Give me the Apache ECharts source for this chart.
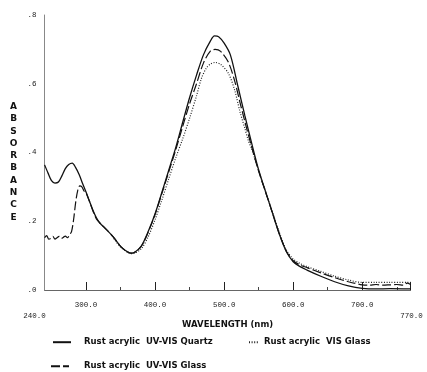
<!DOCTYPE html>
<html><head><meta charset="utf-8">
<script src="https://cdn.jsdelivr.net/npm/echarts@6/dist/echarts.min.js"></script>
<style>html,body{margin:0;padding:0;background:#fff}#c{width:427px;height:372px}</style>
</head><body><div id="c"></div>
<script>
const seriesNames = ['Rust acrylic  UV-VIS Quartz', 'Rust acrylic  VIS Glass', 'Rust acrylic  UV-VIS Glass'];
const majorTicks = [300, 400, 500, 600, 700, 770];
const minorTicks = [350, 450, 550, 650, 750];
const xLabels = [300, 400, 500, 600, 700];
const xEndLabels = [240, 770];
const quartz = [[240,0.364],[245,0.340],[250,0.318],[255,0.311],[260,0.314],[265,0.332],[270,0.353],[275,0.365],[280,0.369],[285,0.356],[290,0.336],[295,0.310],[300,0.285],[305,0.258],[310,0.232],[315,0.210],[320,0.195],[330,0.175],[340,0.153],[350,0.127],[360,0.111],[365,0.107],[370,0.109],[380,0.128],[390,0.170],[400,0.222],[410,0.285],[420,0.350],[430,0.415],[440,0.488],[450,0.560],[460,0.625],[470,0.684],[480,0.724],[486,0.739],[492,0.737],[500,0.718],[509,0.684],[520,0.592],[530,0.507],[540,0.426],[550,0.349],[560,0.286],[570,0.224],[580,0.162],[590,0.112],[600,0.082],[610,0.068],[620,0.058],[640,0.040],[660,0.024],[680,0.012],[700,0.005],[720,0.003],[740,0.004],[770,0.003]];
const visGlass = [[340,0.150],[350,0.125],[360,0.110],[365,0.106],[370,0.107],[380,0.120],[390,0.155],[400,0.205],[410,0.263],[420,0.325],[430,0.385],[440,0.440],[450,0.500],[460,0.565],[467,0.615],[474,0.645],[480,0.657],[487,0.662],[495,0.656],[506,0.631],[515,0.583],[523,0.518],[530,0.470],[535,0.435],[540,0.410],[550,0.347],[560,0.286],[570,0.226],[580,0.167],[590,0.117],[600,0.090],[610,0.077],[620,0.068],[640,0.054],[660,0.040],[680,0.029],[700,0.022],[720,0.022],[740,0.022],[770,0.022]];
const uvVisGlass = [[240,0.152],[243,0.158],[246,0.148],[249,0.150],[252,0.156],[255,0.148],[258,0.152],[261,0.156],[264,0.150],[267,0.153],[270,0.157],[273,0.152],[276,0.160],[279,0.170],[282,0.205],[285,0.255],[288,0.290],[291,0.303],[294,0.300],[297,0.288],[300,0.282],[303,0.268],[306,0.252],[310,0.230],[315,0.207],[320,0.195],[330,0.175],[340,0.153],[350,0.127],[360,0.111],[365,0.107],[370,0.109],[380,0.127],[390,0.168],[400,0.220],[410,0.282],[420,0.345],[430,0.408],[440,0.476],[450,0.542],[460,0.600],[470,0.660],[480,0.695],[487,0.700],[495,0.694],[506,0.663],[515,0.610],[523,0.545],[530,0.490],[540,0.415],[550,0.345],[560,0.285],[570,0.224],[580,0.163],[590,0.113],[600,0.085],[610,0.073],[620,0.065],[640,0.050],[660,0.036],[680,0.024],[700,0.015],[710,0.014],[720,0.016],[730,0.014],[740,0.015],[750,0.016],[760,0.014],[765,0.020],[770,0.016]];

const mono = 'Liberation Mono';
const bold = 'DejaVu Sans';
const chart = echarts.init(document.getElementById('c'), null, {renderer: 'canvas'});
const xBase = {type: 'value', min: 240, max: 770, position: 'bottom', splitLine: {show: false}};
const legTxt = {fontFamily: bold, fontWeight: 'bold', fontSize: 8.5, color: '#111'};
const yName = '{s| }\n' + 'ABSORBANCE'.split('').map(c => '{t|' + c + '}').join('\n');
chart.setOption({
  animation: false,
  backgroundColor: '#fff',
  grid: {left: 44.6, right: 16.4, top: 15, bottom: 82, containLabel: false},
  legend: [
    {data: [seriesNames[0]], left: 52, top: 337.7, padding: 0, itemWidth: 18, itemHeight: 10, itemStyle: {opacity: 0}, textStyle: Object.assign({padding: [0,0,0,8]}, legTxt)},
    {data: [seriesNames[1]], left: 248, top: 337.7, padding: 0, itemWidth: 10, itemHeight: 10, itemStyle: {opacity: 0}, textStyle: Object.assign({padding: [0,0,0,0]}, legTxt)},
    {data: [seriesNames[2]], left: 50, top: 361.7, padding: 0, itemWidth: 18, itemHeight: 10, itemStyle: {opacity: 0}, textStyle: Object.assign({padding: [0,0,0,10]}, legTxt)}
  ],
  xAxis: [
    Object.assign({}, xBase, {
      name: 'WAVELENGTH (nm)', nameLocation: 'middle', nameGap: 30,
      nameTextStyle: {fontFamily: bold, fontWeight: 'bold', fontSize: 8.5, color: '#111'},
      axisLine: {show: true, lineStyle: {color: '#666', width: 1}},
      axisTick: {show: true, inside: true, length: 8, customValues: majorTicks, lineStyle: {color: '#222', width: 1}},
      axisLabel: {show: true, customValues: xLabels, margin: 11, fontFamily: mono, fontSize: 7.5, color: '#222', formatter: v => v.toFixed(1)}
    }),
    Object.assign({}, xBase, {
      axisLine: {show: false},
      axisTick: {show: true, inside: true, length: 3, customValues: minorTicks, lineStyle: {color: '#444', width: 1}},
      axisLabel: {show: false}
    }),
    Object.assign({}, xBase, {
      axisLine: {show: false},
      axisTick: {show: false},
      axisLabel: {show: true, customValues: xEndLabels, margin: 22, fontFamily: mono, fontSize: 7.5, color: '#222',
        formatter: v => v === 240 ? '{a|240.0}' : '{b|770.0}',
        rich: {a: {fontFamily: mono, fontSize: 7.5, color: '#222', padding: [0, 20, 0, 0]}, b: {fontFamily: mono, fontSize: 7.5, color: '#222', padding: [0, 0, 0, 2]}}}
    })
  ],
  yAxis: {
    type: 'value', min: 0, max: 0.8, interval: 0.2,
    name: yName, nameLocation: 'middle', nameRotate: 0, nameGap: 31,
    nameTextStyle: {align: 'center', verticalAlign: 'middle',
      rich: {s: {fontSize: 9, lineHeight: 19}, t: {fontFamily: bold, fontWeight: 'bold', fontSize: 9, color: '#111', lineHeight: 12.3, align: 'center'}}},
    axisLine: {show: true, lineStyle: {color: '#888', width: 1}},
    axisTick: {show: false},
    splitLine: {show: false},
    axisLabel: {margin: 8, fontFamily: mono, fontSize: 7.5, color: '#222', formatter: v => v.toFixed(1).replace(/^0/, '')}
  },
  series: [
    {name: seriesNames[0], type: 'line', xAxisIndex: 0, data: quartz, symbol: 'none', smooth: 0.3, lineStyle: {color: '#111', width: 1.3, type: 'solid'}, itemStyle: {color: '#111'}},
    {name: seriesNames[1], type: 'line', xAxisIndex: 0, data: visGlass, symbol: 'none', smooth: 0.3, lineStyle: {color: '#222', width: 1.2, type: [1, 1.6]}, itemStyle: {color: '#222'}},
    {name: seriesNames[2], type: 'line', xAxisIndex: 0, data: uvVisGlass, symbol: 'none', smooth: 0.3, lineStyle: {color: '#111', width: 1.2, type: [9, 3]}, itemStyle: {color: '#111'}}
  ]
});
</script>
</body></html>
